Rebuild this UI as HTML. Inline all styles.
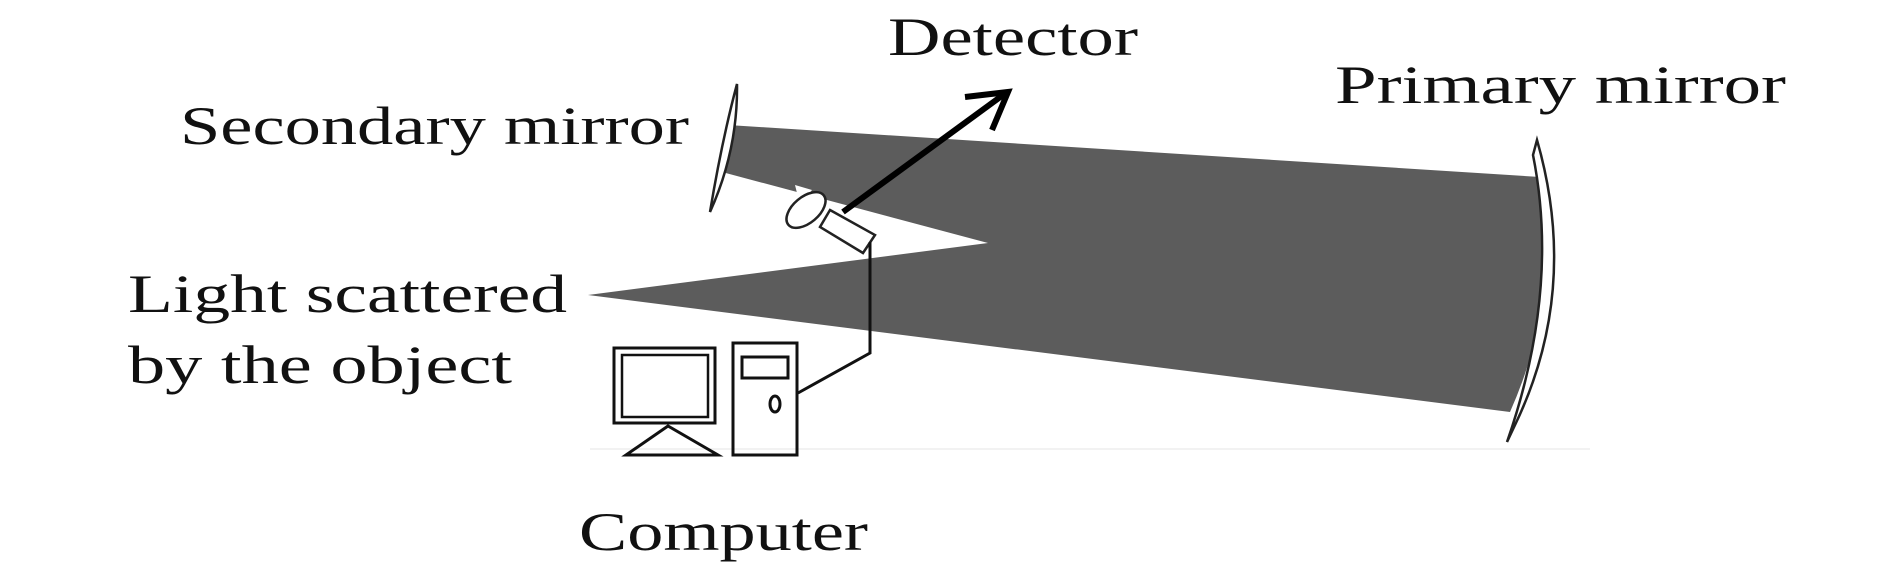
<!DOCTYPE html>
<html><head><style>body{margin:0;background:#fff}svg{display:block}text{font-family:"Liberation Serif",serif;font-size:54px;fill:#111}</style></head>
<body>
<svg width="1890" height="567" viewBox="0 0 1890 567" xmlns="http://www.w3.org/2000/svg">
<line x1="590" y1="449" x2="1590" y2="449" stroke="#f2f2f2" stroke-width="2"/>
<path d="M728,125 L1540,177 Q1562,295 1510,412 L588,295 L988,243 L722,172 Z" fill="#5c5c5c"/>
<path d="M737,84 Q722,140 710,212 Q738,150 737,84 Z" fill="#fff" stroke="#222" stroke-width="2.5"/>
<path d="M1537,140 L1533,155 Q1560,290 1507,442 L1515,425 Q1580,290 1537,140 Z" fill="#fff" stroke="#222" stroke-width="2.5"/>
<polygon points="795,185 812,190 800,205" fill="#fff"/>
<ellipse cx="806" cy="210" rx="13" ry="23" transform="rotate(50 806 210)" fill="#fff" stroke="#222" stroke-width="2.5"/>
<polygon points="830,210 875,235 863,253 820,227" fill="#fff" stroke="#222" stroke-width="2.5"/>
<polyline points="870,242 870,353 798,393" fill="none" stroke="#111" stroke-width="3"/>
<line x1="843" y1="212" x2="1003" y2="95" stroke="#000" stroke-width="6"/>
<polyline points="965,97 1008,92 992,130" fill="none" stroke="#000" stroke-width="6"/>
<rect x="614" y="348" width="101" height="75" fill="none" stroke="#111" stroke-width="3"/>
<rect x="622" y="355" width="86" height="62" fill="none" stroke="#111" stroke-width="2.5"/>
<polygon points="668,426 626,455 718,455" fill="none" stroke="#111" stroke-width="3"/>
<rect x="733" y="343" width="64" height="112" fill="none" stroke="#111" stroke-width="3"/>
<rect x="742" y="357" width="46" height="21" fill="none" stroke="#111" stroke-width="3"/>
<ellipse cx="775" cy="404" rx="5" ry="8" fill="none" stroke="#111" stroke-width="3"/>
<text x="888" y="55" textLength="250" lengthAdjust="spacingAndGlyphs">Detector</text>
<text x="1335" y="103" textLength="451" lengthAdjust="spacingAndGlyphs">Primary mirror</text>
<text x="180" y="144" textLength="509" lengthAdjust="spacingAndGlyphs">Secondary mirror</text>
<text x="128" y="312" textLength="439" lengthAdjust="spacingAndGlyphs">Light scattered</text>
<text x="128" y="383" textLength="384" lengthAdjust="spacingAndGlyphs">by the object</text>
<text x="579" y="550" textLength="289" lengthAdjust="spacingAndGlyphs">Computer</text>
</svg>
</body></html>
